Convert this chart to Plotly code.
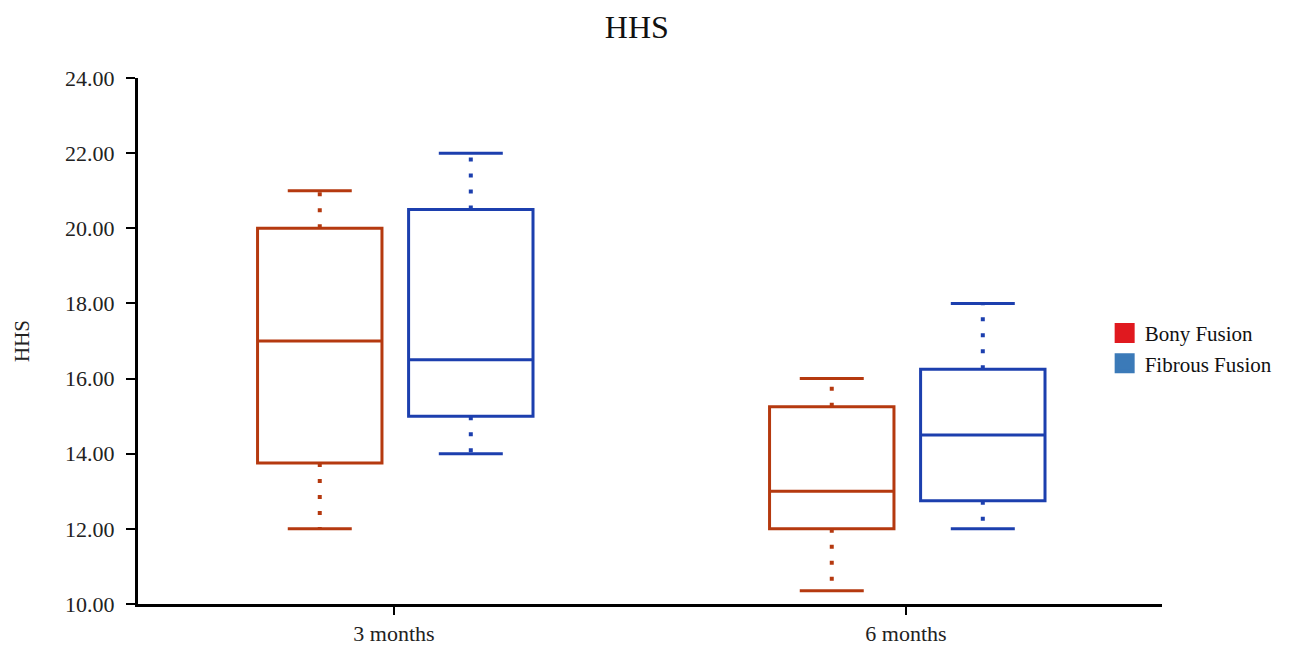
import plotly.graph_objects as go

# ---- data ----
categories = ["3 months", "6 months"]
series_names = ["Bony Fusion", "Fibrous Fusion"]
bony_min = [12.0, 10.35]
bony_q1 = [13.75, 12.0]
bony_median = [17.0, 13.0]
bony_q3 = [20.0, 15.25]
bony_max = [21.0, 16.0]
fibrous_min = [14.0, 12.0]
fibrous_q1 = [15.0, 12.75]
fibrous_median = [16.5, 14.5]
fibrous_q3 = [20.5, 16.25]
fibrous_max = [22.0, 18.0]
y_ticks = [10, 12, 14, 16, 18, 20, 22, 24]

# ---- styles ----
box_colors = ["#b5390f", "#1c3fae"]
legend_colors = ["#e0191f", "#3b7ab8"]
offsets = [-0.145, 0.15]
box_width = 0.243
cap_half = 0.0625
FONT = "Liberation Serif"

fig = go.Figure()
series = [
    (bony_min, bony_q1, bony_median, bony_q3, bony_max),
    (fibrous_min, fibrous_q1, fibrous_median, fibrous_q3, fibrous_max),
]
for si, (mn, q1, med, q3, mx) in enumerate(series):
    col = box_colors[si]
    xs = [i + offsets[si] for i in range(len(categories))]
    wx, wy = [], []
    cx, cy = [], []
    for j, x in enumerate(xs):
        wx += [x, x, None, x, x, None]
        wy += [q3[j], mx[j], None, q1[j], mn[j], None]
        cx += [x - cap_half, x + cap_half, None, x - cap_half, x + cap_half, None]
        cy += [mx[j], mx[j], None, mn[j], mn[j], None]
    fig.add_trace(go.Scatter(x=wx, y=wy, mode="lines", showlegend=False,
                             line=dict(color=col, width=4, dash="4px,12px"),
                             hoverinfo="skip"))
    fig.add_trace(go.Scatter(x=cx, y=cy, mode="lines", showlegend=False,
                             line=dict(color=col, width=3), hoverinfo="skip"))
    fig.add_trace(go.Box(
        x=xs, q1=q1, median=med, q3=q3, lowerfence=q1, upperfence=q3,
        width=box_width, whiskerwidth=0, fillcolor="rgba(255,255,255,0)",
        line=dict(color=col, width=3), showlegend=False, name=series_names[si],
    ))
    fig.add_trace(go.Scatter(x=[None], y=[None], mode="markers", name=series_names[si],
                             marker=dict(symbol="square", size=16, color=legend_colors[si],
                                         line=dict(width=4, color=legend_colors[si]))))

fig.update_layout(
    width=1297, height=645,
    margin=dict(l=138, r=135, t=78, b=41),
    paper_bgcolor="white", plot_bgcolor="white",
    font=dict(family=FONT, color="#222222"),
    title=dict(text="HHS", x=0.491, xref="container", y=0.958, yref="container",
               xanchor="center", yanchor="middle", font=dict(size=32, color="#111111")),
    legend=dict(x=0.944, xanchor="left", y=0.486, yanchor="middle",
                font=dict(size=21, color="#111111"), itemsizing="trace",
                tracegroupgap=0, itemwidth=30, bgcolor="rgba(0,0,0,0)"),
    showlegend=True,
)
fig.update_xaxes(
    range=[-0.5, 1.5], tickvals=list(range(len(categories))), ticktext=categories,
    showgrid=False, zeroline=False, showline=True, linecolor="black", linewidth=3,
    ticks="outside", ticklen=8, tickwidth=1.5, tickcolor="black", automargin=False,
    tickfont=dict(size=22, family=FONT, color="#222222"), ticklabelstandoff=0,
)
fig.update_yaxes(
    range=[10, 24], tickvals=y_ticks, tickformat=".2f", automargin=False,
    showgrid=False, zeroline=False, showline=True, linecolor="black", linewidth=3,
    ticks="outside", ticklen=9, tickwidth=1.5, tickcolor="black",
    tickfont=dict(size=22, family=FONT, color="#222222"), ticklabelstandoff=7,
    title=dict(text="HHS", font=dict(size=21, family=FONT, color="#222222"), standoff=30),
)
fig.write_html("out.html")
